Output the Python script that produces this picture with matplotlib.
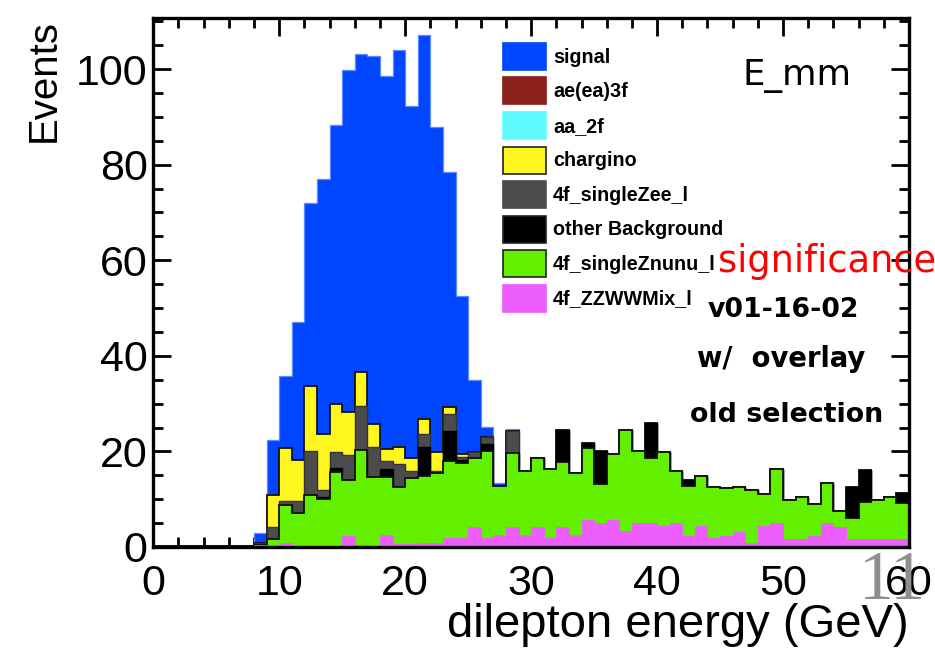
import numpy as np
import matplotlib
matplotlib.use("Agg")
import matplotlib.pyplot as plt
from matplotlib.patches import Patch
from matplotlib.font_manager import FontProperties

# ---------------- data (events per 1 GeV bin, 0..60 GeV) ----------------
bin_edges = np.arange(0, 61, 1)

zzwwmix = [0.3, 0.3, 0.3, 0.3, 0.3, 0.3, 0.3, 0.3, 0.4, 0.4,
           0.9, 0.3, 0.3, 0.3, 0.3, 2.4, 0.4, 0.3, 2.5, 0.6,
           0.6, 0.8, 0.9, 1.8, 1.8, 4.1, 1.8, 2.5, 4.1, 2.5,
           4.1, 1.8, 4.1, 2.5, 5.6, 5.0, 5.6, 3.3, 5.0, 5.0,
           4.3, 5.0, 2.4, 4.3, 1.8, 2.4, 3.2, 0.9, 4.3, 5.0,
           1.7, 1.7, 2.4, 5.0, 4.1, 1.7, 1.7, 1.7, 1.7, 1.7]

singleznunu = [0, 0, 0, 0, 0, 0, 0, 0, 0, 1.2,
               7.9, 6.8, 10.6, 9.7, 15.3, 11.6, 19.9, 14.4, 12.1, 11.9,
               13.8, 14.0, 14.5, 16.1, 15.7, 14.5, 18.2, 10.3, 15.5, 13.4,
               14.6, 14.5, 13.6, 12.9, 15.1, 8.2, 13.9, 21.1, 15.1, 13.6,
               15.5, 10.8, 10.4, 10.6, 10.8, 9.9, 9.3, 11.0, 6.7, 11.3,
               8.2, 8.7, 6.5, 8.3, 3.5, 4.3, 7.8, 8.2, 8.7, 7.6]

other_bkg = [0, 0, 0, 0, 0, 0, 0, 0, 0, 0,
             0, 0, 0, 0.5, 1.0, 0, 0, 0, 1.7, 0,
             0, 6.2, 0, 6.3, 0.7, 0, 1.6, 0, 0, 0,
             0, 0, 6.7, 0, 1.1, 6.8, 0, 0, 0, 7.3,
             0, 0, 1.2, 0, 0, 0, 0, 0, 0, 0,
             0, 0, 0, 0, 0, 6.6, 6.6, 0, 0, 2.1]

singlezee = [0, 0, 0, 0, 0, 0, 0, 0, 0.5, 2.5,
             0.8, 2.6, 9.1, 1.5, 3.2, 5.3, 9.2, 6.2, 1.6, 4.9,
             1.4, 2.7, 0.5, 3.7, 0.7, 1.2, 1.5, 0, 4.7, 0,
             0, 0, 0, 0, 0, 0, 0, 0, 0, 0,
             0, 0, 0, 0, 0, 0, 0, 0, 0, 0,
             0, 0, 0, 0, 0, 0, 0, 0, 0, 0]

chargino = [0, 0, 0, 0, 0, 0, 0, 0, 0, 6.8,
            11.1, 8.6, 13.6, 11.7, 10.2, 9.0, 7.1, 4.9, 2.7, 3.6,
            2.8, 3.1, 3.9, 1.5, 0.6, 0, 0, 0, 0, 0,
            0, 0, 0, 0, 0, 0, 0, 0, 0, 0,
            0, 0, 0, 0, 0, 0, 0, 0, 0, 0,
            0, 0, 0, 0, 0, 0, 0, 0, 0, 0]

aa_2f = [0] * 60
ae3f = [0] * 60

signal = [0, 0, 0, 0, 0, 0, 0, 0, 2.0, 11.5,
          15.0, 28.8, 38.4, 53.3, 58.3, 71.5, 66.5, 77.0, 77.9, 82.9,
          73.7, 80.4, 68.1, 49.0, 33.1, 15.2, 2.1, 0.5, 0.3, 0,
          0, 0, 0, 0, 0, 0, 0, 0, 0, 0,
          0, 0, 0, 0, 0, 0, 0, 0, 0, 0,
          0, 0, 0, 0, 0, 0, 0, 0, 0, 0]

# stack order bottom -> top
stack_labels = ["4f_ZZWWMix_l", "4f_singleZnunu_l", "other Background",
                "4f_singleZee_l", "chargino", "aa_2f", "ae(ea)3f", "signal"]
stack_values = [zzwwmix, singleznunu, other_bkg, singlezee, chargino,
                aa_2f, ae3f, signal]
face_colors = ["#ee5eff", "#62f000", "#000000", "#4c4c4c", "#fff51f",
               "#5ffbff", "#8b1f1a", "#0045ff"]
edge_colors = ["#ee5eff", "#111111", "#000000", "#333333", "#111111",
               "#5ffbff", "#8b1f1a", "#5b8cff"]
edge_widths = [0.6, 1.3, 1.0, 1.0, 1.3, 0.6, 0.6, 0.9]

# ---------------- figure ----------------
W, H = 935, 652
fig = plt.figure(figsize=(W / 100, H / 100), dpi=100)
plt.rcParams["font.family"] = ["Liberation Sans", "DejaVu Sans"]

x0_px, x1_px, y0_px, y1_px = 153.3, 909.0, 547.0, 17.5
ax = fig.add_axes([x0_px / W, 1 - y0_px / H, (x1_px - x0_px) / W, (y0_px - y1_px) / H])

cum = np.cumsum(np.array(stack_values, dtype=float), axis=0)
for i in reversed(range(len(stack_values))):
    if not np.any(np.array(stack_values[i]) > 0):
        continue
    ax.stairs(cum[i], bin_edges, fill=True, facecolor=face_colors[i],
              edgecolor=edge_colors[i], linewidth=edge_widths[i], zorder=2)

ax.set_xlim(0, 60)
ax.set_ylim(0, 110.8)
ax.set_xticks(np.arange(0, 61, 10))
ax.set_xticks(np.arange(0, 61, 2), minor=True)
ax.set_yticks(np.arange(0, 101, 20))
ax.set_yticks(np.arange(0, 111, 5), minor=True)
ax.tick_params(which="both", direction="in", top=True, right=True,
               width=2.0, color="black", zorder=5)
ax.tick_params(which="major", length=13)
ax.tick_params(which="minor", length=7)
ax.tick_params(axis="x", which="major", labelsize=31, pad=12)
ax.tick_params(axis="y", which="major", labelsize=31, pad=4)
for sp in ax.spines.values():
    sp.set_linewidth(2.4)
    sp.set_zorder(6)

xl = ax.set_xlabel("dilepton energy (GeV)", fontsize=34)
xl.set_ha("right")
xl.set_va("baseline")
ax.xaxis.set_label_coords(1.0, -(637 - y0_px) / (y0_px - y1_px))

yl = ax.set_ylabel("Events", fontsize=29)
yl.set_ha("right")
yl.set_va("baseline")
ax.yaxis.set_label_coords((55 - x0_px) / (x1_px - x0_px), (y0_px - 19) / (y0_px - y1_px))

# ---------------- legend ----------------
legend_order = ["signal", "ae(ea)3f", "aa_2f", "chargino", "4f_singleZee_l",
                "other Background", "4f_singleZnunu_l", "4f_ZZWWMix_l"]
handles = []
for name in legend_order:
    i = stack_labels.index(name)
    ec = face_colors[i]
    if name in ("chargino", "4f_singleZnunu_l", "other Background"):
        ec = "#222222"
    handles.append(Patch(facecolor=face_colors[i], edgecolor=ec, linewidth=1.2, label=name))

fs_leg = 14.2
em = fs_leg * 100 / 72          # font size in pixels
box_h_pt = 27 * 72 / 100        # wanted patch height (pt)
hh = (box_h_pt / fs_leg - 0.245) / 0.65
leg = fig.legend(handles=handles, loc="upper left",
                 bbox_to_anchor=(503 / W, 1 - 43 / H), bbox_transform=fig.transFigure,
                 frameon=False, borderpad=0, borderaxespad=0,
                 handlelength=43 / em, handleheight=hh,
                 labelspacing=(34.5 - 27) / em, handletextpad=7 / em,
                 prop=FontProperties(family="Liberation Sans", weight="bold", size=fs_leg))

# ---------------- annotation texts ----------------
def ftext(xp, yp, s, **kw):
    fig.text(xp / W, 1 - yp / H, s, va="baseline", ha="left", **kw)

ftext(743, 85, "E_mm", fontsize=25.5, family="DejaVu Sans", color="black")
ftext(718, 272, "significance", fontsize=26.5, family="DejaVu Sans", color="#ff0000")
ftext(708, 317, "v01-16-02", fontsize=19.3, family="DejaVu Sans", weight="bold", color="black")
ftext(697, 367, "w/  overlay", fontsize=19.8, family="DejaVu Sans", weight="bold", color="black")
ftext(690, 422, "old selection", fontsize=19.4, family="DejaVu Sans", weight="bold", color="black")
ftext(859, 599, "11", fontsize=50, family="Liberation Serif", color="#8f8f8f")

fig.savefig("out.png", dpi=100)
